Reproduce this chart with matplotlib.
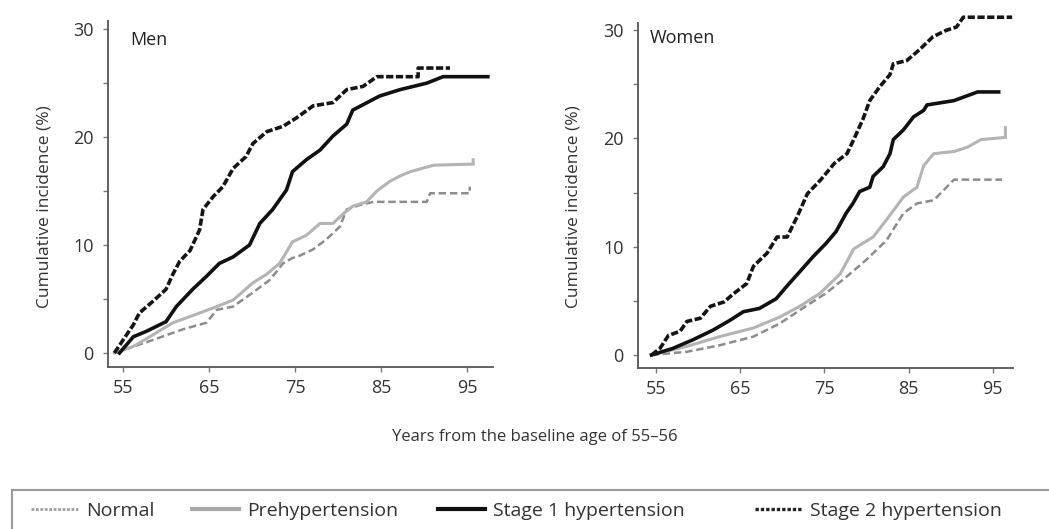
import matplotlib
matplotlib.use("Agg")
import matplotlib.pyplot as plt
from matplotlib.lines import Line2D
from matplotlib.patches import Rectangle

plt.rcParams['font.family'] = ['Open Sans', 'DejaVu Sans']

# ---------------- data ----------------
# Men
men_s2_x = [54.0, 55.6, 56.2, 56.9, 58.5, 60.0, 60.8, 61.6, 62.8, 63.9, 64.3, 65.5, 66.6, 67.8, 69.3, 70.1, 71.7, 73.6, 75.2, 77.1, 79.4, 81.0, 82.9, 84.5, 89.3, 89.3, 93.0]
men_s2_y = [0.0, 1.9, 2.6, 3.7, 4.8, 5.9, 7.3, 8.5, 9.5, 11.4, 13.3, 14.5, 15.4, 17.1, 18.2, 19.4, 20.5, 21.0, 21.8, 22.9, 23.2, 24.4, 24.7, 25.6, 25.6, 26.4, 26.4]
men_s1_x = [54.6, 56.2, 57.7, 60.0, 61.2, 63.1, 64.7, 66.2, 67.8, 69.7, 70.9, 72.4, 74.0, 74.7, 76.3, 77.9, 79.4, 81.0, 81.7, 82.9, 84.8, 87.2, 90.3, 92.2, 97.4]
men_s1_y = [0.0, 1.5, 2.0, 2.9, 4.3, 5.9, 7.1, 8.3, 8.9, 10.0, 12.0, 13.3, 15.1, 16.8, 17.9, 18.8, 20.1, 21.2, 22.5, 23.0, 23.8, 24.4, 25.0, 25.6, 25.6]
men_pre_x = [54.0, 56.2, 58.1, 60.8, 63.9, 65.9, 67.8, 70.1, 71.7, 73.2, 74.7, 76.3, 77.9, 79.4, 80.6, 81.7, 83.3, 84.5, 86.0, 87.2, 88.4, 91.1, 95.7, 95.7]
men_pre_y = [0.0, 0.6, 1.5, 2.8, 3.7, 4.3, 4.9, 6.5, 7.3, 8.3, 10.3, 10.9, 12.0, 12.0, 12.9, 13.6, 14.0, 15.0, 15.9, 16.4, 16.8, 17.4, 17.5, 17.9]
men_nor_x = [54.0, 58.1, 62.0, 64.7, 65.9, 67.8, 70.1, 72.1, 73.6, 74.7, 75.5, 77.1, 78.6, 80.2, 81.0, 82.5, 84.1, 90.3, 90.7, 95.3, 95.3]
men_nor_y = [0.0, 1.1, 2.2, 2.8, 4.0, 4.3, 5.6, 6.8, 8.3, 8.8, 9.0, 9.6, 10.5, 11.7, 13.3, 13.7, 14.0, 14.0, 14.8, 14.8, 15.4]

# Women
wom_s2_x = [54.5, 55.5, 56.5, 57.9, 58.7, 60.3, 61.5, 63.1, 64.3, 65.8, 66.6, 68.2, 69.4, 70.6, 71.8, 73.0, 74.6, 76.2, 77.7, 78.5, 79.6, 80.4, 81.6, 82.8, 83.2, 84.8, 86.3, 87.9, 89.5, 90.7, 91.5, 97.3]
wom_s2_y = [0.0, 0.6, 1.8, 2.2, 3.1, 3.4, 4.5, 4.9, 5.7, 6.6, 8.2, 9.4, 10.9, 10.9, 12.8, 14.9, 16.2, 17.7, 18.6, 19.9, 21.8, 23.5, 24.8, 25.9, 26.9, 27.2, 28.2, 29.4, 30.0, 30.3, 31.2, 31.2]
wom_s1_x = [54.5, 57.0, 59.4, 61.8, 63.8, 65.4, 67.3, 69.3, 70.5, 72.1, 73.7, 75.2, 76.4, 77.6, 78.4, 79.2, 80.4, 80.8, 82.0, 82.8, 83.2, 84.4, 85.6, 86.8, 87.2, 90.4, 93.2, 95.7]
wom_s1_y = [0.0, 0.6, 1.4, 2.3, 3.2, 4.0, 4.3, 5.2, 6.3, 7.7, 9.1, 10.3, 11.4, 13.1, 14.0, 15.1, 15.5, 16.5, 17.4, 18.6, 19.9, 20.8, 22.0, 22.6, 23.1, 23.5, 24.3, 24.3]
wom_pre_x = [54.5, 58.7, 62.6, 66.6, 69.7, 72.1, 74.5, 76.9, 78.5, 80.8, 82.4, 84.4, 86.0, 86.8, 88.0, 90.4, 92.0, 93.6, 96.5, 96.5]
wom_pre_y = [0.0, 0.8, 1.7, 2.5, 3.5, 4.5, 5.7, 7.5, 9.8, 10.9, 12.5, 14.6, 15.5, 17.5, 18.6, 18.8, 19.2, 19.9, 20.1, 21.0]
wom_nor_x = [54.5, 58.7, 62.6, 66.6, 69.7, 72.8, 75.2, 77.6, 80.0, 82.4, 84.4, 86.0, 88.0, 90.4, 96.1]
wom_nor_y = [0.0, 0.3, 0.9, 1.7, 2.9, 4.5, 5.7, 7.2, 8.8, 10.6, 13.1, 14.0, 14.3, 16.2, 16.2]

panels = ["Men", "Women"]
groups = ["Normal", "Prehypertension", "Stage 1 hypertension", "Stage 2 hypertension"]
x_ticks = [55, 65, 75, 85, 95]
y_ticks = [0, 5, 10, 15, 20, 25, 30]
y_labels = ["0", "", "10", "", "20", "", "30"]

series = {
    "Men": [(men_nor_x, men_nor_y), (men_pre_x, men_pre_y), (men_s1_x, men_s1_y), (men_s2_x, men_s2_y)],
    "Women": [(wom_nor_x, wom_nor_y), (wom_pre_x, wom_pre_y), (wom_s1_x, wom_s1_y), (wom_s2_x, wom_s2_y)],
}

# ---------------- styles ----------------
plot_styles = [
    dict(color="#8c8c8c", lw=1.8, ls=(0, (3, 1.5))),
    dict(color="#b4b4b4", lw=2.2, ls="-"),
    dict(color="#111111", lw=2.6, ls="-"),
    dict(color="#151515", lw=2.6, ls=(0, (2, 0.7))),
]
legend_styles = [
    dict(color="#a0a0a0", lw=2.0, ls=(0, (1, 0.6))),
    dict(color="#a8a8a8", lw=3.0, ls="-"),
    dict(color="#111111", lw=3.0, ls="-"),
    dict(color="#222222", lw=2.4, ls=(0, (1, 0.6))),
]

W, H = 1049, 529
fig = plt.figure(figsize=(W / 100, H / 100), dpi=100)

txt_color = "#333333"
axes_px = {
    "Men": dict(l=108, r=493, b=367, t=13, xlim=(53.26, 98.0), ylim=(-1.3, 31.5), spine_top=30.8,
                title=(0.057, 0.924), ylab_x=45),
    "Women": dict(l=638, r=1013, b=368, t=14, xlim=(52.9, 97.4), ylim=(-1.2, 31.5), spine_top=30.7,
                  title=(0.032, 0.932), ylab_x=573),
}

for p in panels:
    g = axes_px[p]
    ax = fig.add_axes([g["l"] / W, 1 - g["b"] / H, (g["r"] - g["l"]) / W, (g["b"] - g["t"]) / H])
    for (xs, ys), st in zip(series[p], plot_styles):
        ax.plot(xs, ys, color=st["color"], lw=st["lw"], linestyle=st["ls"],
                solid_joinstyle="miter", clip_on=False)
    ax.set_xlim(*g["xlim"])
    ax.set_ylim(*g["ylim"])
    ax.spines["top"].set_visible(False)
    ax.spines["right"].set_visible(False)
    for s in ("left", "bottom"):
        ax.spines[s].set_color("#555555")
        ax.spines[s].set_linewidth(1.3)
    ax.spines["left"].set_bounds(g["ylim"][0], g["spine_top"])
    ax.set_xticks(x_ticks)
    ax.set_yticks(y_ticks)
    ax.set_yticklabels(y_labels)
    ax.tick_params(axis="both", direction="out", length=3.5, width=1, color="#777777",
                   labelsize=13, labelcolor=txt_color)
    ax.tick_params(axis="y", pad=7)
    ax.tick_params(axis="x", pad=5)
    ax.text(g["title"][0], g["title"][1], p, transform=ax.transAxes, fontsize=13,
            color="#222222", ha="left", va="center")
    fig.text(g["ylab_x"] / W, 1 - 207 / H, "Cumulative incidence (%)", rotation=90,
             ha="center", va="center", fontsize=12.5, color=txt_color)

fig.text(535 / W, 1 - 437 / H, "Years from the baseline age of 55\u201356", ha="center",
         va="center", fontsize=12, color=txt_color)

# legend box
fig.patches.append(Rectangle((12 / W, -0.05), 1.1, (1 - 490 / H) + 0.05, transform=fig.transFigure,
                             fill=False, edgecolor="#9a9a9a", lw=1.5))
legend_x = [31, 192, 438, 755]
for name, st, xpx in zip(groups, legend_styles, legend_x):
    h = Line2D([], [], color=st["color"], lw=st["lw"], linestyle=st["ls"])
    fig.legend([h], [name], loc="center left", bbox_to_anchor=(xpx / W, 1 - 511 / H),
               frameon=False, fontsize=14, handlelength=2.4, handletextpad=0.45,
               borderpad=0, borderaxespad=0, labelcolor=txt_color)

fig.savefig("out.png", dpi=100)
